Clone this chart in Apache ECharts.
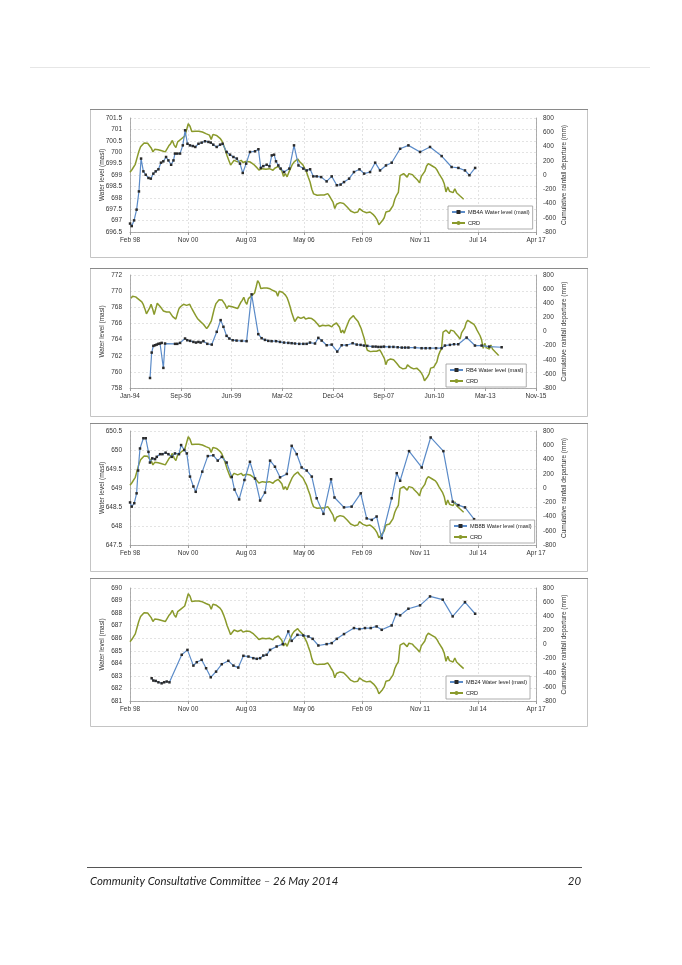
<!DOCTYPE html>
<html><head><meta charset="utf-8">
<script src="https://cdn.jsdelivr.net/npm/echarts@6/dist/echarts.min.js"></script>
<style>html,body{margin:0;padding:0;background:#fff;}#c{width:682px;height:965px;}</style>
</head><body><div id="c"></div>
<script>
// ---------- DATA ----------
const xLabelsA = ['Feb 98','Nov 00','Aug 03','May 06','Feb 09','Nov 11','Jul 14','Apr 17'];
const xLabelsB = ['Jan-94','Sep-96','Jun-99','Mar-02','Dec-04','Sep-07','Jun-10','Mar-13','Nov-15'];

// Cumulative rainfall departure (mm), monthly from Jan 1994
const crdStartYear = 1994;
const crdValues = [
 470,500,515,490,470,455,435,420,380,320,250,245,
 330,385,320,240,320,400,420,350,320,290,280,275,
 265,275,250,210,185,175,250,320,350,370,385,375,
 370,355,385,340,300,275,220,185,160,140,120,100,
 115,
 40,70,95,150,240,330,395,420,450,470,
 445,425,380,325,360,370,355,345,340,335,
 325,315,410,440,485,420,385,465,475,505,
 530,545,630,720,685,610,590,615,630,615,
 608,604,595,580,594,560,500,570,565,555,
 530,515,480,420,350,270,205,140,173,206,
 180,185,192,206,175,180,192,188,183,165,
 150,128,100,70,75,89,85,80,85,89,
 80,66,95,112,120,126,60,-20,20,-25,
 40,66,150,185,206,225,190,165,140,90,
 42,-30,-98,-200,-265,-280,-285,-285,-280,-276,
 -280,-285,-262,-295,-340,-380,-470,-410,-395,-388,
 -379,-400,-420,-450,-470,-505,-515,-529,-525,-519,
 -472,-495,-510,-525,-529,-520,-519,-540,-560,-590,
 -630,-697,-675,-640,-600,-519,-496,-505,-505,-430,
 -340,-285,-245,-10,-28,19,25,-30,19,10,
 5,-25,-50,-75,-108,-20,-5,50,126,159,
 136,130,126,100,66,20,-5,-60,-122,-238,
 -168,-229,-240,-248,-192,-248,-270,-295,-320,-341
];

// MB4A water level (masl)
const mb4aYears = [1998.14,1998.22,1998.33,1998.45,1998.56,1998.66,1998.77,1998.88,1999.01,1999.12,1999.24,1999.35,1999.48,1999.60,1999.71,1999.84,1999.95,2000.08,2000.19,2000.26,2000.37,2000.50,2000.63,2000.74,2000.85,2000.97,2001.10,2001.22,2001.37,2001.52,2001.68,2001.84,2001.95,2002.07,2002.23,2002.39,2002.51,2002.70,2002.86,2003.02,2003.18,2003.33,2003.46,2003.62,2003.80,2004.04,2004.20,2004.31,2004.43,2004.59,2004.72,2004.83,2004.94,2005.03,2005.14,2005.25,2005.41,2005.66,2005.88,2006.09,2006.32,2006.48,2006.64,2006.79,2006.95,2007.16,2007.42,2007.66,2007.90,2008.08,2008.24,2008.48,2008.71,2008.97,2009.19,2009.47,2009.71,2009.94,2010.22,2010.49,2010.89,2011.28,2011.83,2012.30,2012.85,2013.32,2013.64,2013.95,2014.16,2014.43];
const mb4aLevels = [696.87,696.76,697.01,697.48,698.28,699.72,699.16,699.01,698.87,698.84,699.06,699.16,699.25,699.54,699.60,699.79,699.64,699.45,699.64,699.94,699.94,699.94,700.30,700.96,700.37,700.30,700.27,700.23,700.37,700.42,700.48,700.45,700.42,700.33,700.23,700.33,700.37,700.01,699.89,699.79,699.72,699.50,699.09,699.50,700.01,700.04,700.13,699.31,699.39,699.45,699.38,699.86,699.89,699.60,699.42,699.28,699.13,699.28,700.30,699.42,699.28,699.20,699.25,698.94,698.94,698.91,698.72,698.94,698.55,698.58,698.69,698.84,699.13,699.25,699.06,699.13,699.54,699.20,699.42,699.54,700.15,700.30,700.01,700.23,699.83,699.35,699.31,699.20,698.99,699.31];

// RB4 water level (masl)
const rb4Years = [1995.08,1995.17,1995.26,1995.35,1995.44,1995.53,1995.62,1995.71,1995.80,1995.89,1996.43,1996.55,1996.70,1996.97,1997.09,1997.24,1997.42,1997.56,1997.69,1997.81,1997.96,1998.17,1998.41,1998.68,1998.89,1999.04,1999.21,1999.36,1999.54,1999.75,2000.02,2000.29,2000.56,2000.92,2001.10,2001.28,2001.46,2001.64,2001.88,2002.09,2002.31,2002.54,2002.72,2002.90,2003.13,2003.35,2003.53,2003.71,2003.98,2004.16,2004.34,2004.61,2004.88,2005.18,2005.42,2005.69,2006.01,2006.23,2006.44,2006.62,2006.80,2007.09,2007.25,2007.40,2007.55,2007.70,2007.99,2008.21,2008.44,2008.66,2008.84,2009.02,2009.37,2009.73,2009.95,2010.18,2010.51,2010.81,2010.99,2011.26,2011.48,2011.71,2012.16,2012.61,2012.97,2013.38,2014.05];
const rb4Levels = [759.24,762.39,763.22,763.30,763.38,763.47,763.51,763.59,760.49,763.51,763.47,763.47,763.59,764.13,763.92,763.84,763.71,763.63,763.71,763.63,763.80,763.47,763.38,764.96,766.41,765.58,764.46,764.13,763.92,763.88,763.84,763.80,769.60,764.67,764.17,763.96,763.84,763.80,763.80,763.71,763.63,763.59,763.55,763.51,763.47,763.47,763.47,763.63,763.51,764.21,763.88,763.30,763.38,762.51,763.30,763.30,763.55,763.38,763.34,763.26,763.22,763.13,763.13,763.09,763.09,763.13,763.09,763.09,763.05,763.01,763.01,763.01,763.01,762.93,762.93,762.93,762.93,762.93,763.26,763.34,763.42,763.42,764.25,763.26,763.26,763.13,763.05];

// MB8B water level (masl)
const mb8bYears = [1998.14,1998.22,1998.34,1998.45,1998.52,1998.61,1998.77,1998.88,1999.01,1999.08,1999.19,1999.32,1999.40,1999.56,1999.67,1999.82,1999.95,2000.11,2000.26,2000.45,2000.55,2000.70,2000.82,2000.97,2001.13,2001.24,2001.55,2001.81,2002.07,2002.28,2002.47,2002.70,2002.94,2003.07,2003.29,2003.54,2003.80,2004.04,2004.28,2004.51,2004.75,2004.98,2005.22,2005.54,2005.77,2006.01,2006.24,2006.48,2006.72,2006.95,2007.27,2007.63,2007.79,2008.24,2008.60,2009.03,2009.31,2009.55,2009.78,2010.02,2010.49,2010.73,2010.89,2011.31,2011.91,2012.33,2012.93,2013.37,2013.64,2013.95,2014.38];
const mb8bLevels = [648.62,648.51,648.60,648.86,649.46,650.04,650.31,650.31,649.95,649.67,649.78,649.76,649.82,649.89,649.89,649.93,649.89,649.82,649.91,649.89,650.13,650.00,649.91,649.30,649.04,648.90,649.43,649.84,649.86,649.72,649.82,649.67,649.29,648.96,648.70,649.21,649.69,649.25,648.67,648.88,649.72,649.56,649.28,649.37,650.11,649.89,649.54,649.46,649.30,648.73,648.32,649.23,648.75,648.49,648.51,648.86,648.20,648.16,648.25,647.68,648.73,649.39,649.19,649.97,649.54,650.33,649.97,648.64,648.55,648.49,648.18];

// MB24 water level (masl)
const mb24Years = [1999.16,1999.24,1999.35,1999.48,1999.63,1999.75,1999.87,2000.00,2000.58,2000.85,2001.13,2001.29,2001.52,2001.73,2001.95,2002.20,2002.47,2002.78,2003.02,2003.25,2003.49,2003.73,2003.96,2004.12,2004.28,2004.43,2004.59,2004.75,2005.06,2005.35,2005.61,2005.77,2006.04,2006.32,2006.56,2006.76,2007.03,2007.42,2007.66,2007.90,2008.24,2008.71,2008.97,2009.23,2009.50,2009.78,2010.02,2010.49,2010.70,2010.89,2011.28,2011.83,2012.30,2012.90,2013.37,2013.95,2014.43];
const mb24Levels = [682.81,682.63,682.60,682.49,682.41,682.49,682.55,682.49,684.68,685.07,683.82,684.09,684.28,683.61,682.89,683.34,683.93,684.20,683.82,683.66,684.60,684.54,684.41,684.36,684.41,684.62,684.68,685.07,685.34,685.53,686.54,685.79,686.27,686.22,686.14,685.95,685.42,685.53,685.61,685.95,686.33,686.81,686.73,686.81,686.81,686.94,686.67,687.02,687.92,687.82,688.35,688.62,689.33,689.07,687.74,688.88,687.95];

const crdName = 'CRD';
const leftAxisName = 'Water level (masl)';
const rightAxisName = 'Cumulative rainfall departure (mm)';

// ---------- BUILD ----------
const DAYS_PER_YEAR = 365.25;
const crdYears = crdValues.map((v, i) => crdStartYear + (i + 0.65) / 12);
function toSeries(years, vals, start, span) {
  const out = [];
  for (let i = 0; i < years.length; i++) {
    const d = (years[i] - start) * DAYS_PER_YEAR;
    if (d >= -0.5 && d <= span) out.push([Math.max(0, d), vals[i]]);
  }
  return out;
}

const panels = [
  {name:'MB4A Water level (masl)', years:mb4aYears, vals:mb4aLevels, start:1998.138, span:7000, labels:xLabelsA,
   yMin:696.5, yMax:701.5, yInt:0.5, top:118, height:114, lgLeft:448, lgTop:206},
  {name:'RB4 Water level (masl)', years:rb4Years, vals:rb4Levels, start:1994.0, span:8000, labels:xLabelsB,
   yMin:758, yMax:772, yInt:2, top:275, height:113, lgLeft:446, lgTop:364},
  {name:'MB8B Water level (masl)', years:mb8bYears, vals:mb8bLevels, start:1998.138, span:7000, labels:xLabelsA,
   yMin:647.5, yMax:650.5, yInt:0.5, top:431, height:114, lgLeft:450, lgTop:520},
  {name:'MB24 Water level (masl)', years:mb24Years, vals:mb24Levels, start:1998.138, span:7000, labels:xLabelsA,
   yMin:681, yMax:690, yInt:1, top:588, height:113, lgLeft:446, lgTop:676}
];

const FONT = 'Liberation Sans';
const lblStyle = {fontSize:6.5, color:'#333', fontFamily:FONT};
const gridLine = {show:true, lineStyle:{color:'#dcdcdc', width:0.8, type:[2,2]}};
const axisLn = {show:true, onZero:false, lineStyle:{color:'#9a9a9a', width:0.8}};

const grid=[], xAxis=[], yAxis=[], series=[], legend=[];
panels.forEach((p, i) => {
  grid.push({left:130, width:406, top:p.top, height:p.height});
  xAxis.push({type:'value', gridIndex:i, min:0, max:p.span, interval:1000,
    axisLine:axisLn, axisTick:{show:true, length:3, lineStyle:{color:'#9a9a9a'}},
    splitLine:gridLine,
    axisLabel:Object.assign({margin:5, formatter:(v)=>p.labels[Math.round(v/1000)] || ''}, lblStyle)});
  yAxis.push({type:'value', gridIndex:i, position:'left', min:p.yMin, max:p.yMax, interval:p.yInt,
    name:leftAxisName, nameLocation:'middle', nameRotate:90, nameGap:24, nameMoveOverlap:false,
    nameTextStyle:{fontSize:6.5, color:'#333', fontFamily:FONT},
    axisLine:axisLn, axisTick:{show:false}, splitLine:gridLine,
    axisLabel:Object.assign({margin:8}, lblStyle)});
  yAxis.push({type:'value', gridIndex:i, position:'right', min:-800, max:800, interval:200,
    name:rightAxisName, nameLocation:'middle', nameRotate:90, nameGap:25, nameMoveOverlap:false,
    nameTextStyle:{fontSize:6.5, color:'#333', fontFamily:FONT},
    axisLine:axisLn, axisTick:{show:false}, splitLine:{show:false},
    axisLabel:Object.assign({margin:7, align:'left'}, lblStyle)});
  series.push({name:p.name, type:'line', xAxisIndex:i, yAxisIndex:2*i,
    data:toSeries(p.years, p.vals, p.start, p.span),
    symbol:'rect', symbolSize:2.5, showSymbol:true,
    itemStyle:{color:'#2a2a2a'}, lineStyle:{color:'#5b8bc8', width:1.2}, z:3, animation:false});
  series.push({name:crdName, type:'line', xAxisIndex:i, yAxisIndex:2*i+1,
    data:toSeries(crdYears, crdValues, p.start, p.span),
    symbol:'none', showSymbol:false,
    itemStyle:{color:'#8a9a2c'}, lineStyle:{color:'#8a9a2c', width:1.5}, z:2, animation:false});
  legend.push({data:[p.name, crdName], orient:'vertical', left:p.lgLeft, top:p.lgTop,
    itemWidth:13, itemHeight:5, itemGap:5, selectedMode:false,
    backgroundColor:'#fff', borderColor:'#9a9a9a', borderWidth:0.8, padding:[3,3,3,3],
    textStyle:{fontSize:5.6, color:'#222', fontFamily:FONT, padding:[0,0,0,-2]}});
});

const frameTops = [109, 268, 423, 578];
const graphic = [];
frameTops.forEach(t => {
  graphic.push({type:'rect', shape:{x:90.5, y:t+0.5, width:497, height:148},
    style:{fill:'none', stroke:'#c4c4c4', lineWidth:1}, z:-1});
  graphic.push({type:'line', shape:{x1:90, y1:t+0.5, x2:588, y2:t+0.5},
    style:{stroke:'#8a8a8a', lineWidth:1}, z:-1});
});
graphic.push({type:'line', shape:{x1:30, y1:67.5, x2:650, y2:67.5}, style:{stroke:'#e6e6e6', lineWidth:1}});
graphic.push({type:'line', shape:{x1:87, y1:867.5, x2:582, y2:867.5}, style:{stroke:'#555', lineWidth:1}});
graphic.push({type:'text', left:90, top:876, style:{text:'Community Consultative Committee \u2013 26 May 2014',
  font:'italic 11.4px Lato', fill:'#222'}});
graphic.push({type:'text', right:101, top:876, style:{text:'20', font:'italic 11.4px Lato', fill:'#222'}});

const chart = echarts.init(document.getElementById('c'));
chart.setOption({backgroundColor:'#fff', animation:false, grid, xAxis, yAxis, series, legend, graphic});
</script></body></html>
